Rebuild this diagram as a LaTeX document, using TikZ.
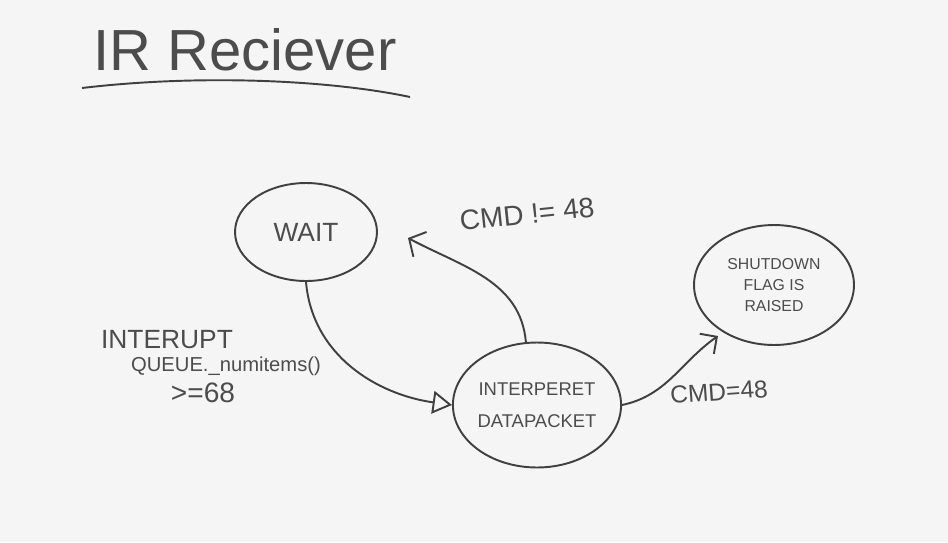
\documentclass[tikz,border=0pt]{standalone}
\usepackage{fontspec}
\setmainfont{Liberation Sans}
\usetikzlibrary{shapes.geometric,arrows.meta}

\tikzset{
  pen/.style={draw=black!75, line width=1.1pt},
  state/.style={pen, ellipse, inner sep=0pt, align=center, text=black!70},
  label text/.style={text=black!70, inner sep=1pt, align=center}
}

\begin{document}
\begin{tikzpicture}[x=0.02cm, y=-0.02cm]
    % Sfondo
    \fill[black!4] (0,0) rectangle (948,542);
    \useasboundingbox (0,0) rectangle (948,542);

    % Titolo
    \node[label text, font=\fontsize{33}{36}\selectfont] (title) at (245,50) {IR Reciever};
    \draw[pen] (82,88) .. controls (200,74) and (330,80) .. (410,97);

    % Stati
    \node[state, minimum width=2.84cm, minimum height=1.96cm, font=\fontsize{15}{18}\selectfont] (wait) at (306,232) {WAIT};
    \node[state, minimum width=3.05cm, minimum height=2.5cm, font=\fontsize{10.5}{18}\selectfont] (interp) at (537,405) {INTERPERET\\DATAPACKET};
    \node[state, minimum width=3.2cm, minimum height=2.4cm, font=\fontsize{9}{12}\selectfont] (shut) at (774,285) {SHUTDOWN\\FLAG IS\\RAISED};

    % Etichette
    \node[label text, font=\fontsize{15}{18}\selectfont] (intr) at (167,340) {INTERUPT};
    \node[label text, font=\fontsize{11.5}{14}\selectfont] (queue) at (226,366) {QUEUE.\_numitems()};
    \node[label text, font=\fontsize{16}{18}\selectfont] (geq) at (203,393) {>=68};
    \node[label text, rotate=6, font=\fontsize{16}{18}\selectfont] (neq) at (527,214) {CMD~!=~48};
    \node[label text, rotate=4, font=\fontsize{14}{16}\selectfont] (eq) at (719,392) {CMD=48};

    % Punti di arrivo
    \coordinate (backtip) at (408,238);
    \coordinate (shuttip) at (718,336);

    % Transizioni
    \draw[pen, -{Triangle[open, length=11pt, width=13pt]}] (wait.south) to[out=-85, in=172] (interp.west);
    \draw[pen, -{Straight Barb[length=7pt, width=16pt]}] (interp.100) to[out=95, in=-28] (backtip);
    \draw[pen, -{Straight Barb[length=7pt, width=14pt]}] (interp.east) to[out=12, in=-145] (shuttip);
\end{tikzpicture}
\end{document}
